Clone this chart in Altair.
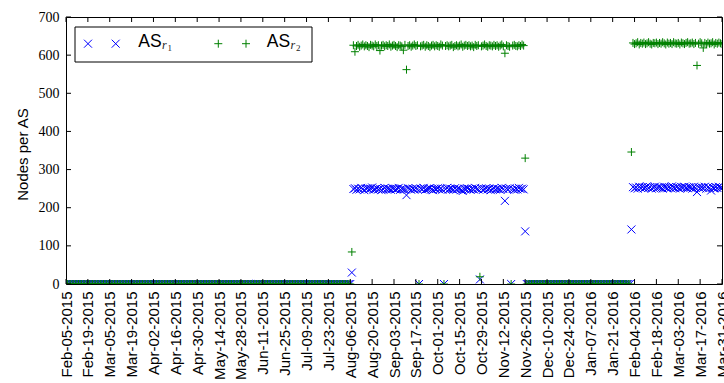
import altair as alt
import pandas as pd
from datetime import datetime

# ---------------- data ----------------
start_date = "2015-02-05"

tick_labels = [
    "Feb-05-2015", "Feb-19-2015", "Mar-05-2015", "Mar-19-2015", "Apr-02-2015",
    "Apr-16-2015", "Apr-30-2015", "May-14-2015", "May-28-2015", "Jun-11-2015",
    "Jun-25-2015", "Jul-09-2015", "Jul-23-2015", "Aug-06-2015", "Aug-20-2015",
    "Sep-03-2015", "Sep-17-2015", "Oct-01-2015", "Oct-15-2015", "Oct-29-2015",
    "Nov-12-2015", "Nov-26-2015", "Dec-10-2015", "Dec-24-2015", "Jan-07-2016",
    "Jan-21-2016", "Feb-04-2016", "Feb-18-2016", "Mar-03-2016", "Mar-17-2016",
    "Mar-31-2016",
]
y_ticks = [0, 100, 200, 300, 400, 500, 600, 700]

series_names = ["AS", "AS"]
series_subs = [("r", "1"), ("r", "2")]

# Feb-05-2015 .. Aug-06-2015 : both series at 0
zeros_before = 183
# Nov-27-2015 .. Feb-01-2016 : both series at 0
zeros_middle = 67

r1_rise1, r2_rise1 = 30, 84      # Aug-07-2015
r1_fall, r2_fall = 138, 330      # Nov-26-2015
r1_rise2, r2_rise2 = 143, 346    # Feb-02-2016

# Aug-08-2015 .. Nov-25-2015
r1_plateau1 = [
    249, 251, 247, 250, 248, 252, 249, 246, 250, 251,
    248, 250, 253, 247, 249, 251, 248, 250, 246, 249,
    252, 248, 250, 249, 247, 251, 250, 248, 249, 252,
    247, 250, 249, 248, 233, 251, 249, 247, 250, 248,
    251, 249, 0, 250, 248, 252, 247, 249, 250, 251,
    248, 246, 250, 249, 251, 248, 250, 247, 0, 249,
    252, 248, 250, 249, 247, 251, 248, 250, 249, 246,
    244, 250, 248, 251, 249, 247, 250, 248, 252, 249,
    248, 12, 250, 247, 249, 251, 248, 250, 246, 249,
    251, 248, 250, 249, 247, 252, 249, 218, 250, 248,
    251, 0, 249, 247, 250, 248, 252, 249, 250, 248,
]
r2_plateau1 = [
    626, 609, 624, 627, 622, 625, 628, 623, 626, 624,
    621, 627, 625, 623, 628, 624, 626, 612, 625, 627,
    623, 626, 624, 628, 622, 625, 627, 624, 621, 626,
    625, 623, 613, 627, 562, 624, 626, 622, 625, 628,
    624, 626, 0, 623, 625, 627, 622, 626, 624, 621,
    625, 627, 623, 626, 624, 622, 628, 625, 0, 624,
    626, 623, 625, 627, 621, 624, 626, 623, 625, 628,
    622, 625, 627, 624, 626, 623, 625, 621, 627, 624,
    626, 19, 623, 625, 628, 624, 622, 626, 625, 623,
    627, 624, 626, 622, 625, 628, 623, 605, 626, 624,
    622, 0, 625, 627, 624, 623, 626, 624, 628, 625,
]
# Feb-03-2016 .. Mar-31-2016
r1_plateau2 = [
    254, 251, 253, 250, 255, 252, 254, 251, 253, 256,
    252, 254, 250, 253, 255, 251, 253, 254, 252, 250,
    255, 253, 251, 254, 252, 256, 253, 251, 254, 252,
    250, 254, 253, 255, 252, 251, 254, 253, 250, 255,
    252, 241, 254, 251, 253, 252, 255, 250, 254, 252,
    245, 253, 251, 254, 252, 255, 253, 251,
]
r2_plateau2 = [
    632, 629, 631, 634, 628, 632, 630, 633, 629, 631,
    634, 630, 628, 632, 631, 633, 629, 632, 630, 634,
    631, 628, 633, 630, 632, 629, 634, 631, 630, 632,
    628, 633, 631, 629, 632, 634, 630, 631, 633, 629,
    632, 573, 630, 634, 631, 619, 632, 629, 633, 630,
    631, 634, 628, 632, 630, 633, 631, 629,
]

r1 = ([0] * zeros_before + [r1_rise1] + r1_plateau1 + [r1_fall]
      + [0] * zeros_middle + [r1_rise2] + r1_plateau2)
r2 = ([0] * zeros_before + [r2_rise1] + r2_plateau1 + [r2_fall]
      + [0] * zeros_middle + [r2_rise2] + r2_plateau2)

dates = pd.date_range(start_date, periods=len(r1)).strftime("%Y-%m-%d")
df = pd.DataFrame({"date": dates, "r1": r1, "r2": r2})


def to_dt(label):
    d = datetime.strptime(label, "%b-%d-%Y")
    return alt.DateTime(year=d.year, month=d.month, date=d.day, utc=True)


tick_dt = [to_dt(s) for s in tick_labels]
ticks_df = pd.DataFrame({"date": [datetime.strptime(s, "%b-%d-%Y").strftime("%Y-%m-%d") for s in tick_labels]})
yticks_df = pd.DataFrame({"v": y_ticks})
one = pd.DataFrame({"k": [0]})

# ---------------- layout ----------------
W, H = 656, 267
TICK = 5
BLUE = "#0000ff"
GREEN = "#008000"
X_SHAPE = "M-1,-1L1,1M-1,1L1,-1"
PLUS_SHAPE = "M-1,0L1,0M0,-1L0,1"
MSIZE = 64

xscale = alt.Scale(type="utc", domain=[tick_dt[0], tick_dt[-1]], nice=False)
yscale = alt.Scale(domain=[y_ticks[0], y_ticks[-1]], nice=False, zero=False)

x_axis = alt.Axis(
    values=tick_dt, labelExpr="utcFormat(datum.value, '%b-%d-%Y')", labelAngle=270,
    labelFont="Liberation Sans", labelFontSize=15, labelPadding=7,
    labelColor="black", labelOverlap=False, labelFlush=False, labelBound=False,
    ticks=False, domain=False, grid=False, title=None,
)
y_axis = alt.Axis(
    values=y_ticks, labelFont="Liberation Serif", labelFontSize=14,
    labelPadding=7, labelColor="black", labelOverlap=False, labelFlush=False,
    ticks=False, domain=False, grid=False,
    title="Nodes per AS", titleFont="Liberation Sans", titleFontSize=15,
    titleFontWeight="normal", titleColor="black", titleAngle=270,
    titleAlign="center", titleBaseline="alphabetic", titleX=-39, titleY=137,
)


def X():
    return alt.X("date:T", scale=xscale, axis=x_axis)


def Y(field):
    return alt.Y(field, scale=yscale, axis=y_axis)


base = alt.Chart(df)
pts1 = base.mark_point(
    shape=X_SHAPE, filled=False, size=MSIZE, strokeWidth=1, color=BLUE,
    opacity=1, clip=True,
).encode(x=X(), y=Y("r1:Q"))
pts2 = base.mark_point(
    shape=PLUS_SHAPE, filled=False, size=MSIZE, strokeWidth=1, color=GREEN,
    opacity=1, clip=True,
).encode(x=X(), y=Y("r2:Q"))

# inward ticks (matplotlib classic style)
xt = alt.Chart(ticks_df)
bottom_ticks = xt.mark_rule(color="black", strokeWidth=1).encode(
    x=X(), y=alt.value(H), y2=alt.value(H - TICK),
)
top_ticks = xt.mark_rule(color="black", strokeWidth=1).encode(
    x=X(), y=alt.value(0), y2=alt.value(TICK),
)
yt = alt.Chart(yticks_df)
left_ticks = yt.mark_rule(color="black", strokeWidth=1).encode(
    y=Y("v:Q"), x=alt.value(0), x2=alt.value(TICK),
)
right_ticks = yt.mark_rule(color="black", strokeWidth=1).encode(
    y=Y("v:Q"), x=alt.value(W), x2=alt.value(W - TICK),
)

# ---------------- legend ----------------
leg = alt.Chart(one)
legend_box = leg.mark_rect(fill="white", stroke="black", strokeWidth=1).encode(
    x=alt.value(9), x2=alt.value(246), y=alt.value(10), y2=alt.value(45),
)


def marker(px, shape, color):
    return leg.mark_point(
        shape=shape, filled=False, size=MSIZE, strokeWidth=1, color=color, opacity=1
    ).encode(x=alt.value(px), y=alt.value(26.7))


def label(px, name, sub):
    main = leg.mark_text(
        text=name, align="left", baseline="alphabetic", font="Liberation Sans",
        fontSize=17.5, color="black",
    ).encode(x=alt.value(px), y=alt.value(29.7))
    s1 = leg.mark_text(
        text=sub[0], align="left", baseline="alphabetic", font="Liberation Serif",
        fontStyle="italic", fontSize=12, color="#222222",
    ).encode(x=alt.value(px + 23.7), y=alt.value(32))
    s2 = leg.mark_text(
        text=sub[1], align="left", baseline="alphabetic", font="Liberation Serif",
        fontSize=9, color="#222222",
    ).encode(x=alt.value(px + 29.2), y=alt.value(34))
    return [main, s1, s2]


legend_layers = [
    legend_box,
    marker(22, X_SHAPE, BLUE), marker(49.7, X_SHAPE, BLUE),
    marker(152.3, PLUS_SHAPE, GREEN), marker(180, PLUS_SHAPE, GREEN),
] + label(72.3, series_names[0], series_subs[0]) + label(200.8, series_names[1], series_subs[1])

chart = alt.layer(
    pts1, pts2, bottom_ticks, top_ticks, left_ticks, right_ticks, *legend_layers
).properties(
    width=W, height=H,
    padding={"left": 66, "top": 17, "right": 2, "bottom": 99},
    autosize=alt.AutoSizeParams(type="none"),
    background="white",
).configure_view(
    stroke="black", strokeWidth=1,
)

chart.save("out.html", embed_options={"renderer": "svg", "actions": False})
